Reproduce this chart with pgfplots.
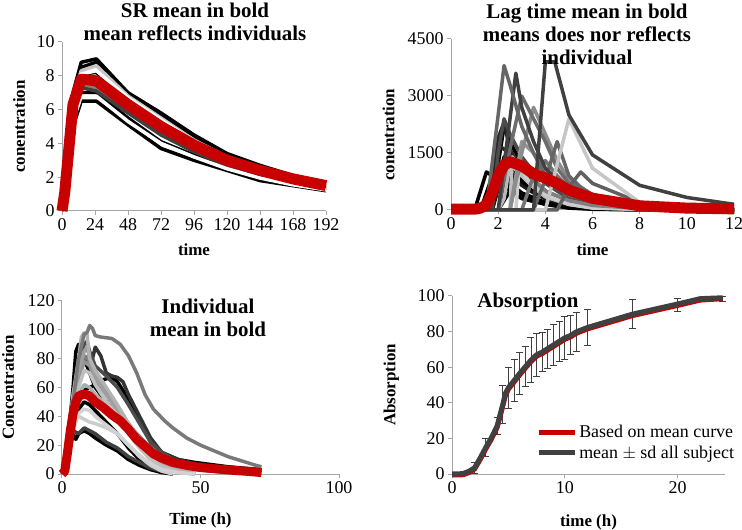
\documentclass[border=0pt]{standalone}
\usepackage{fontspec}
\setmainfont{Liberation Serif}
\usepackage{pgfplots}
\usepackage{pgfplotstable}
\pgfplotsset{compat=1.18}
\definecolor{myred}{RGB}{200,0,0}
\definecolor{dg}{RGB}{64,64,64}
\pgfplotsset{
  base/.style={
    scale only axis, axis lines=left,
    axis line style={-, draw=gray!70, line width=1bp},
    tick align=outside, major tick length=4bp,
    tick style={draw=gray!70, line width=1bp},
    ticklabel style={font=\fontsize{18}{20}\selectfont},
    xlabel style={font=\bfseries\fontsize{17}{19}\selectfont},
    ylabel style={font=\bfseries\fontsize{17}{19}\selectfont},
    /pgf/number format/assume math mode=true,
    /pgf/number format/1000 sep={},
    scaled ticks=false, clip=false, no markers,
  },
  ind/.style={line width=3.5bp, line join=round, #1},
  mn/.style={line width=11bp, line join=round, myred},
}
\pgfplotstableread{
t   a    b    c    d    e    f    g    h    i    j    m
0   0    0    0    0    0    0    0    0    0    0    0
2   1.5  1.2  1.3  1.2  1.1  1.0  1.0  0.9  0.9  0.8  1.1
8   7.0  6.5  6.8  6.6  6.3  6.0  5.8  5.5  5.3  5.0  6.3
14  8.8  8.5  8.3  8.1  8.1  7.5  7.3  7.0  6.8  6.5  7.8
25  9.0  8.8  8.6  8.3  8.2  7.3  7.1  7.0  6.8  6.5  7.7
48  7.0  6.9  6.8  6.7  6.5  6.0  5.8  5.5  5.3  5.1  6.3
72  5.8  5.6  5.5  5.4  5.2  4.6  4.5  4.1  4.0  3.7  5.0
96  4.5  4.3  4.2  4.1  4.0  3.6  3.5  3.3  3.2  3.0  3.9
120 3.4  3.3  3.2  3.1  3.0  2.8  2.7  2.6  2.5  2.4  3.0
144 2.7  2.6  2.5  2.45 2.4  2.2  2.1  2.0  1.95 1.8  2.4
168 2.1  2.0  2.0  1.95 1.9  1.7  1.7  1.6  1.55 1.5  1.9
192 1.7  1.65 1.6  1.6  1.5  1.4  1.35 1.3  1.25 1.2  1.5
}\srtable
\begin{document}
\begin{tikzpicture}
\useasboundingbox (0bp,0bp) rectangle (742bp,530bp);
% ---------------- Panel 1
\begin{axis}[base, at={(62bp,319bp)}, anchor=south west, width=264bp, height=169bp,
  xmin=0, xmax=192, ymin=0, ymax=10, xtick={0,24,...,192}, ytick={0,2,...,10},
  xlabel={time}, ylabel={conentration},
  xlabel style={at={(axis description cs:0.5,-0.23)}, anchor=center},
  ylabel style={at={(axis description cs:-0.163,0.5)}, anchor=center}]
\addplot[ind=black] table[x=t,y=a] {\srtable};
\addplot[ind=black] table[x=t,y=b] {\srtable};
\addplot[ind=black] table[x=t,y=e] {\srtable};
\addplot[ind=black] table[x=t,y=h] {\srtable};
\addplot[ind=black] table[x=t,y=j] {\srtable};
\addplot[ind=gray] table[x=t,y=f] {\srtable};
\addplot[ind=gray!50!black] table[x=t,y=g] {\srtable};
\addplot[ind=gray!45] table[x=t,y=c] {\srtable};
\addplot[ind=white] table[x=t,y=d] {\srtable};
\addplot[ind=white] table[x=t,y=i] {\srtable};
\addplot[mn] table[x=t,y=m] {\srtable};
\end{axis}
\node[font=\bfseries\fontsize{21}{23}\selectfont, align=center] at (195bp,508bp) {SR mean in bold\\mean reflects individuals};
% ---------------- Panel 2
\begin{axis}[base, at={(451bp,320bp)}, anchor=south west, width=283bp, height=171bp,
  xmin=0, xmax=12, ymin=0, ymax=4500, xtick={0,2,...,12}, ytick={0,1500,3000,4500},
  xlabel={time}, ylabel={conentration},
  xlabel style={at={(axis description cs:0.5,-0.234)}, anchor=center},
  ylabel style={at={(axis description cs:-0.221,0.44)}, anchor=center}]
\addplot[ind=black] coordinates {(0,0)(1,0)(1.5,1000)(2,800)(2.5,500)(3,300)(4,150)(5,60)(6,30)(8,10)(12,0)};
\addplot[ind=black] coordinates {(0,0)(1.25,0)(1.75,900)(2,1000)(2.5,700)(3,450)(4,200)(5,90)(6,40)(8,10)(12,0)};
\addplot[ind=black] coordinates {(0,0)(2,0)(2.5,800)(3,700)(3.5,500)(4,300)(5,130)(6,60)(8,15)(12,0)};
\addplot[ind=black] coordinates {(0,0)(2,0)(2.5,500)(3,400)(3.5,250)(4,150)(5,50)(6,20)(8,0)(12,0)};
\addplot[ind=black] coordinates {(0,0)(1.75,0)(2.25,1400)(2.5,1200)(3,800)(3.5,550)(4,350)(5,150)(6,60)(8,15)(12,0)};
\addplot[ind=gray!20!black] coordinates {(0,0)(1.75,0)(2.25,1100)(2.5,950)(3,650)(3.5,450)(4,300)(5,130)(6,50)(8,10)(12,0)};
\addplot[ind=black] coordinates {(0,0)(2,0)(2.5,1000)(3,750)(3.5,550)(4,380)(5,180)(6,80)(8,20)(12,0)};
\addplot[ind=black] coordinates {(0,0)(1.75,0)(2,1200)(2.25,2200)(2.5,1800)(3,1200)(3.5,800)(4,500)(5,200)(6,100)(8,30)(12,5)};
\addplot[ind=gray!30!black] coordinates {(0,0)(1.5,0)(2,1900)(2.25,2300)(2.5,1600)(3,1000)(3.5,650)(4,420)(5,200)(6,90)(8,20)(12,0)};
\addplot[ind=gray!30!black] coordinates {(0,0)(1.5,0)(2,1700)(2.5,1500)(3,1000)(3.5,700)(4,400)(5,200)(6,100)(8,30)(12,5)};
\addplot[ind=gray!40!black] coordinates {(0,0)(1.5,0)(2,600)(2.5,1300)(3,1000)(3.5,650)(4,400)(5,180)(6,80)(8,20)(12,0)};
\addplot[ind=gray!60!black] coordinates {(0,0)(1.75,0)(2,1500)(2.25,2400)(2.5,2000)(3,1400)(3.5,1000)(4,700)(5,300)(6,150)(8,50)(12,10)};
\addplot[ind=gray!55] coordinates {(0,0)(2,0)(2.25,300)(2.5,1200)(3,900)(3.5,600)(4,350)(5,150)(6,70)(8,20)(12,0)};
\addplot[ind=gray!50] coordinates {(0,0)(2.5,0)(2.6,1400)(3,900)(3.5,600)(4,350)(5,150)(6,60)(8,10)(12,0)};
\addplot[ind=gray!40] coordinates {(0,0)(2.75,0)(2.9,1200)(3.25,800)(4,400)(5,150)(6,50)(12,0)};
\addplot[ind=gray] coordinates {(0,0)(2.5,0)(2.75,800)(3,1200)(3.5,800)(4,500)(5,250)(6,120)(8,40)(12,5)};
\addplot[ind=gray!85] coordinates {(0,0)(2.5,0)(3,1800)(3.5,1500)(4,1000)(4.5,600)(5,400)(6,250)(8,80)(12,10)};
\addplot[ind=gray!90!black] coordinates {(0,0)(3,0)(3.5,900)(4,1300)(4.5,900)(5,600)(6,300)(8,80)(12,10)};
\addplot[ind=gray!90] coordinates {(0,0)(2.5,0)(3,1500)(3.5,2700)(4,2000)(4.5,1300)(5,800)(6,400)(8,120)(10,40)(12,15)};
\addplot[ind=gray!85!black] coordinates {(0,0)(2,0)(2.5,1600)(3,3000)(3.5,2400)(4,1800)(4.5,1100)(5,700)(6,400)(8,150)(10,50)(12,20)};
\addplot[ind=gray!80!black] coordinates {(0,0)(3.5,0)(4,800)(4.5,1800)(5,900)(5.5,600)(6,400)(8,100)(12,10)};
\addplot[ind=gray!75!black] coordinates {(0,0)(4.5,0)(5,600)(5.5,1000)(6,700)(8,200)(10,60)(12,20)};
\addplot[ind=gray!50!black] coordinates {(0,0)(2,0)(2.5,2400)(2.75,3600)(3,2700)(3.5,1800)(4,1100)(5,500)(6,250)(8,80)(10,30)(12,10)};
\addplot[ind=gray!80!black] coordinates {(0,0)(1.5,0)(2,2500)(2.25,3800)(2.5,3300)(3,2200)(3.5,1500)(4,900)(5,400)(6,200)(8,60)(10,20)(12,10)};
\addplot[ind=gray!45] coordinates {(0,0)(4,0)(4.5,1200)(5,2400)(6,1100)(8,200)(10,50)(12,20)};
\addplot[ind=gray!50!black] coordinates {(0,0)(3.5,0)(4,3900)(4.4,3900)(5,2500)(6,1450)(8,650)(10,330)(12,150)};
\addplot[mn] coordinates {(0,20)(1,20)(1.25,50)(1.5,130)(1.75,450)(2,900)(2.25,1180)(2.5,1270)(3,1160)(3.5,950)(4,840)(4.5,700)(5,520)(6,310)(8,110)(10,50)(12,30)};
\end{axis}
\node[font=\bfseries\fontsize{21}{23}\selectfont, align=center] at (587bp,496bp) {Lag time mean in bold\\means does nor reflects\\individual};
% ---------------- Panel 3
\begin{axis}[base, at={(62bp,56bp)}, anchor=south west, width=277bp, height=173bp,
  xmin=0, xmax=100, ymin=0, ymax=120, xtick={0,50,100}, ytick={0,20,...,120},
  xlabel={Time (h)}, ylabel={Concentration},
  xlabel style={at={(axis description cs:0.5,-0.266)}, anchor=center},
  ylabel style={at={(axis description cs:-0.195,0.5)}, anchor=center}]
\addplot[ind=black] coordinates {(0,0)(2,20)(4,60)(5,85)(6,90)(7,75)(8,80)(10,70)(12,60)(16,50)(20,40)(24,30)(28,20)(32,12)(36,6)(42,2)(48,0)};
\addplot[ind=black] coordinates {(0,0)(2,10)(4,28)(5,24)(6,28)(8,30)(10,28)(12,25)(16,20)(20,16)(24,10)(28,6)(32,3)(36,1)(40,0)};
\addplot[ind=black] coordinates {(0,0)(2,15)(4,40)(6,55)(8,58)(10,60)(12,62)(14,65)(16,66)(18,67)(20,64)(24,52)(28,38)(32,22)(36,15)(42,10)(48,8)(60,5)(72,3)};
\addplot[ind=black] coordinates {(0,0)(2,10)(4,30)(6,45)(8,50)(10,48)(12,44)(16,36)(20,28)(24,18)(28,10)(32,5)(36,2)(40,0)};
\addplot[ind=gray!40!black] coordinates {(0,0)(2,15)(4,45)(6,70)(8,80)(10,82)(11,80)(12,88)(14,82)(16,70)(18,68)(20,67)(22,64)(24,55)(28,40)(32,25)(36,15)(42,10)(48,7)(60,4)(72,2)};
\addplot[ind=gray!60!black] coordinates {(0,0)(2,18)(4,55)(6,75)(8,90)(9,92)(10,85)(12,75)(16,68)(20,60)(24,48)(28,35)(32,22)(36,15)(42,8)(48,5)(60,3)(72,1)};
\addplot[ind=gray!50!black] coordinates {(0,0)(2,12)(4,30)(6,28)(8,32)(10,30)(12,28)(16,22)(20,18)(24,12)(28,8)(32,4)(36,2)(40,0)};
\addplot[ind=gray!85!black] coordinates {(0,0)(2,12)(4,35)(6,50)(8,55)(10,54)(12,50)(16,44)(20,40)(24,34)(28,26)(32,18)(36,12)(42,8)(48,6)(60,4)(72,2)};
\addplot[ind=gray] coordinates {(0,0)(2,16)(4,48)(6,70)(8,82)(10,78)(12,70)(16,58)(20,45)(24,32)(28,22)(32,14)(36,9)(42,5)(48,3)(60,1)};
\addplot[ind=gray!85] coordinates {(0,0)(2,15)(4,45)(6,65)(8,78)(10,75)(12,65)(16,55)(20,45)(24,35)(28,25)(32,15)(36,8)(42,3)(48,0)};
\addplot[ind=gray!75] coordinates {(0,0)(2,18)(4,50)(6,72)(8,85)(9,88)(10,80)(12,68)(16,55)(20,44)(24,32)(28,22)(32,13)(36,7)(42,3)(48,1)};
\addplot[ind=gray!65] coordinates {(0,0)(2,14)(4,40)(6,55)(8,62)(10,60)(12,55)(16,48)(20,42)(24,35)(28,25)(32,16)(36,9)(42,4)(48,1)};
\addplot[ind=gray!60] coordinates {(0,0)(2,20)(4,55)(6,80)(7,95)(8,98)(9,97)(10,80)(12,72)(16,60)(20,48)(24,35)(28,22)(32,12)(36,6)(42,2)(48,0)};
\addplot[ind=gray!50] coordinates {(0,0)(2,12)(4,40)(6,60)(8,72)(10,70)(12,62)(16,50)(20,40)(24,28)(28,18)(32,10)(36,5)(42,1)(48,0)};
\addplot[ind=gray!40] coordinates {(0,0)(2,12)(4,35)(6,40)(8,38)(10,36)(12,35)(16,32)(20,28)(24,20)(28,12)(32,6)(36,2)(40,0)};
\addplot[ind=gray!35] coordinates {(0,0)(2,10)(4,30)(6,42)(8,45)(10,44)(12,40)(16,34)(20,28)(24,20)(28,13)(32,7)(36,3)(42,1)(48,0)};
\addplot[ind=gray!95!black] coordinates {(0,0)(2,15)(4,50)(6,80)(8,97)(9,98)(10,103)(11,101)(12,96)(14,95)(18,94)(21,90)(24,82)(27,70)(30,55)(33,45)(37,37)(40,32)(45,25)(50,20)(55,16)(60,12)(65,9)(70,6)(72,5)};
\addplot[mn, line width=9bp] coordinates {(0,0)(1,2)(2,15)(3,30)(4,42)(5,50)(6,54)(7,55)(9,55)(10,54)(12,50)(15,46)(18,41)(21,37)(24,31)(27,24)(30,19)(33,14)(36,11)(40,8)(45,6)(50,4.5)(56,3.5)(62,2.5)(68,1.7)(72,1)};
\end{axis}
\node[font=\bfseries\fontsize{21}{23}\selectfont, align=center] at (208bp,212bp) {Individual\\mean in bold};
% ---------------- Panel 4
\begin{axis}[base, at={(452bp,56bp)}, anchor=south west, width=273bp, height=178bp,
  xmin=0, xmax=24.2, ymin=0, ymax=100, xtick={0,10,20}, ytick={0,20,...,100},
  xlabel={time (h)}, ylabel={Absorption},
  xlabel style={at={(axis description cs:0.5,-0.27)}, anchor=center},
  ylabel style={at={(axis description cs:-0.222,0.5)}, anchor=center},
  legend style={at={(axis description cs:0.308,0.177)}, anchor=west, draw=none, fill=none,
    font=\fontsize{18}{20}\selectfont, inner sep=0pt, row sep=3bp},
  legend cell align=left,
  legend image code/.code={\draw[#1] (0bp,0bp) -- (36bp,0bp);}]
\addplot[dg, line width=0.8bp, forget plot,
  error bars/.cd, y dir=both, y explicit,
  error bar style={line width=0.8bp, draw=dg},
  error mark options={rotate=90, mark size=3.5bp, line width=0.8bp, draw=dg}]
  coordinates {(2,3.5)+-(0,3) (3,15)+-(0,5) (4,27)+-(0,5) (4.5,39)+-(0,10.5) (5,48.5)+-(0,11.5)
  (5.5,52.5)+-(0,11.7) (6,56.5)+-(0,11.8) (6.5,60.3)+-(0,11.3) (7,64)+-(0,12.8) (7.5,67)+-(0,12)
  (8,68.5)+-(0,11) (8.5,70.5)+-(0,11) (9,72.5)+-(0,11.5) (9.5,74.5)+-(0,11.5) (10,76.5)+-(0,12)
  (10.5,78)+-(0,11) (11,80)+-(0,11) (12,82.5)+-(0,10) (16,90)+-(0,8.2) (20,95)+-(0,3.7) (24,98.5)+-(0,1.5)};
\addplot[myred, line width=5bp, line join=round] coordinates {(0,-0.5)(0.5,-0.5)(1,-0.4)(1.5,0.8)(2,2.8)(2.5,8.2)(3,14.2)(3.5,19.7)(4,26.2)(4.25,32)(4.5,38.2)(4.75,44.5)(5,47.7)(5.5,51.7)(6,55.7)(6.5,59.5)(7,63.2)(7.5,66.2)(8,67.7)(8.5,69.7)(9,71.7)(9.5,73.7)(10,75.7)(10.5,77)(11,79)(12,81.5)(16,89)(20,94.7)(22,97.7)(24,98.5)};
\addlegendentry{Based on mean curve}
\addplot[dg, line width=5bp, line join=round] coordinates {(0,0)(0.5,0)(1,0.3)(1.5,1.5)(2,3.5)(2.5,9)(3,15)(3.5,20.5)(4,27)(4.25,33)(4.5,39)(4.75,45.5)(5,48.5)(5.5,52.5)(6,56.5)(6.5,60.3)(7,64)(7.5,67)(8,68.5)(8.5,70.5)(9,72.5)(9.5,74.5)(10,76.5)(10.5,77.8)(11,79.8)(12,82.3)(16,89.8)(20,95.5)(22,98.5)(24,99)};
\addlegendentry{mean $\pm$ sd all subject}
\end{axis}
\node[font=\bfseries\fontsize{21}{23}\selectfont] at (528bp,228bp) {Absorption};
\end{tikzpicture}
\end{document}
